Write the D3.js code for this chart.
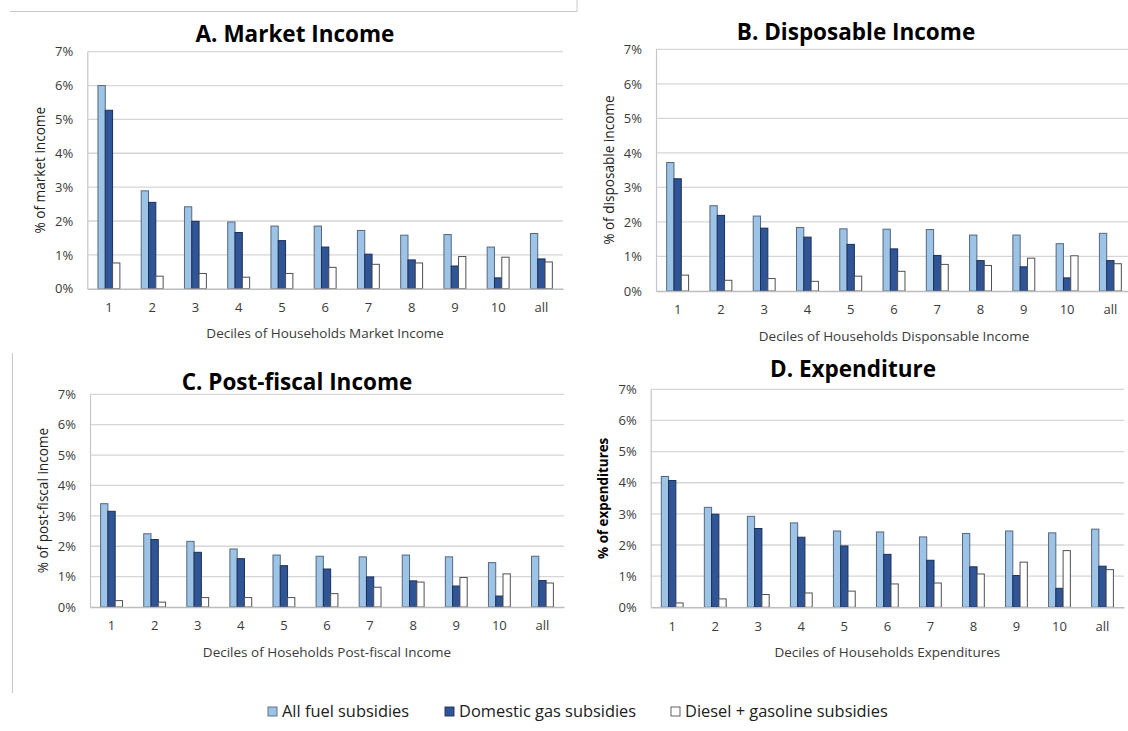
<!DOCTYPE html>
<html>
<head>
<meta charset="utf-8">
<script src="https://cdn.jsdelivr.net/npm/d3@7"></script>
<style>
  html, body { margin: 0; padding: 0; background: #fff; }
  svg { display: block; }
  text { font-family: "Open Sans", "DejaVu Sans", sans-serif; }
</style>
</head>
<body>
<svg id="chart" width="1128" height="731"></svg>
<script>
// ---------------- DATA ----------------
const categories = ["1", "2", "3", "4", "5", "6", "7", "8", "9", "10", "all"];
const seriesNames = ["All fuel subsidies", "Domestic gas subsidies", "Diesel + gasoline subsidies"];
const yTickValues = [0, 1, 2, 3, 4, 5, 6, 7];
const yTickLabels = ["0%", "1%", "2%", "3%", "4%", "5%", "6%", "7%"];

// A. Market Income (% of market income)
const marketAll    = [6.00, 2.89, 2.42, 1.97, 1.85, 1.85, 1.72, 1.58, 1.60, 1.23, 1.63];
const marketGas    = [5.27, 2.55, 1.99, 1.66, 1.42, 1.23, 1.02, 0.85, 0.67, 0.32, 0.88];
const marketDiesel = [0.76, 0.37, 0.45, 0.34, 0.45, 0.63, 0.72, 0.76, 0.95, 0.93, 0.79];

// B. Disposable Income (% of disposable income)
const dispAll    = [3.72, 2.47, 2.17, 1.84, 1.80, 1.79, 1.78, 1.62, 1.62, 1.37, 1.67];
const dispGas    = [3.25, 2.19, 1.82, 1.56, 1.35, 1.22, 1.03, 0.88, 0.70, 0.38, 0.88];
const dispDiesel = [0.46, 0.31, 0.36, 0.28, 0.43, 0.57, 0.77, 0.74, 0.95, 1.02, 0.79];

// C. Post-fiscal Income (% of post-fiscal income)
const postAll    = [3.40, 2.41, 2.16, 1.91, 1.71, 1.67, 1.65, 1.71, 1.65, 1.46, 1.67];
const postGas    = [3.15, 2.22, 1.80, 1.59, 1.36, 1.25, 0.99, 0.86, 0.69, 0.36, 0.87];
const postDiesel = [0.21, 0.16, 0.31, 0.31, 0.31, 0.44, 0.65, 0.82, 0.97, 1.09, 0.79];

// D. Expenditure (% of expenditures)
const expAll    = [4.20, 3.21, 2.92, 2.71, 2.45, 2.42, 2.26, 2.37, 2.45, 2.39, 2.51];
const expGas    = [4.07, 2.99, 2.53, 2.25, 1.97, 1.70, 1.51, 1.30, 1.02, 0.61, 1.32];
const expDiesel = [0.14, 0.27, 0.41, 0.46, 0.52, 0.75, 0.78, 1.07, 1.45, 1.82, 1.21];

const panelTitles = ["A. Market Income", "B. Disposable Income", "C. Post-fiscal Income", "D. Expenditure"];
const yTitles = ["% of market income", "% of disposable income", "% of post-fiscal income", "% of expenditures"];
const xTitles = ["Deciles of Households Market Income", "Deciles of Households Disponsable Income",
                 "Deciles of Hoseholds Post-fiscal Income", "Deciles of Households Expenditures"];
const panelSeries = [
  [marketAll, marketGas, marketDiesel],
  [dispAll, dispGas, dispDiesel],
  [postAll, postGas, postDiesel],
  [expAll, expGas, expDiesel]
];

// ---------------- LAYOUT / STYLE ----------------
const colors = ["#9DC3E6", "#2F5597", "#FFFFFF"];
const strokes = ["#56687c", "#1f2f55", "#505050"];
const layouts = [
  { left: 87.3, right: 563, top: 51.7, bottom: 288.7, titleX: 295, titleY: 41.5, yBold: false },
  { left: 656, right: 1132, top: 49.3, bottom: 291, titleX: 856, titleY: 39.5, yBold: false },
  { left: 90, right: 564, top: 394.3, bottom: 607, titleX: 297, titleY: 390, yBold: false },
  { left: 650.7, right: 1124, top: 389.3, bottom: 607.3, titleX: 853, titleY: 377, yBold: true }
];

const svg = d3.select("#chart");

// decorative frame lines from the source figure
svg.append("line").attr("x1", 10).attr("x2", 577).attr("y1", 11.5).attr("y2", 11.5)
  .attr("stroke", "#c8c8c8").attr("stroke-width", 1);
svg.append("line").attr("x1", 577).attr("x2", 577).attr("y1", 0).attr("y2", 11.5)
  .attr("stroke", "#c8c8c8").attr("stroke-width", 1);
svg.append("line").attr("x1", 12.5).attr("x2", 12.5).attr("y1", 353).attr("y2", 693)
  .attr("stroke", "#c8c8c8").attr("stroke-width", 1);

layouts.forEach((L, p) => {
  const g = svg.append("g");
  const x = d3.scaleBand().domain(categories).range([L.left, L.right]).paddingInner(0).paddingOuter(0);
  const y = d3.scaleLinear().domain([0, 7]).range([L.bottom, L.top]);
  const barW = x.bandwidth() * 0.169;
  const x1 = d3.scaleBand().domain(d3.range(3)).range([0, barW * 3]);

  // gridlines
  g.append("g").selectAll("line").data(yTickValues.filter(v => v > 0)).join("line")
    .attr("x1", L.left).attr("x2", L.right)
    .attr("y1", d => y(d)).attr("y2", d => y(d))
    .attr("stroke", "#d6d6d6").attr("stroke-width", 1.3);

  // y axis
  const yAxis = d3.axisLeft(y).tickValues(yTickValues).tickFormat((d, i) => yTickLabels[i]).tickSize(0).tickPadding(14);
  const ya = g.append("g").attr("transform", `translate(${L.left},0)`).call(yAxis);
  ya.select(".domain").attr("stroke", "#c6c6c6").attr("stroke-width", 1.2);
  ya.selectAll("text").attr("font-size", 13).attr("fill", "#3a3a3a")
    .attr("font-family", "'Open Sans', sans-serif");

  // bars
  const groups = g.append("g").selectAll("g").data(categories).join("g")
    .attr("transform", d => `translate(${x(d) + x.bandwidth() / 2 - barW * 1.5},0)`);
  groups.selectAll("rect").data((d, i) => panelSeries[p].map((s, k) => ({ k, v: s[i] }))).join("rect")
    .attr("x", d => x1(d.k))
    .attr("width", barW)
    .attr("y", d => y(d.v))
    .attr("height", d => y(0) - y(d.v))
    .attr("fill", d => colors[d.k])
    .attr("stroke", d => strokes[d.k])
    .attr("stroke-width", 1);

  // x axis
  const xAxis = d3.axisBottom(x).tickSize(0).tickPadding(14);
  const xa = g.append("g").attr("transform", `translate(0,${L.bottom})`).call(xAxis);
  xa.select(".domain").attr("stroke", "#bdbdbd").attr("stroke-width", 1.4);
  xa.selectAll("text").attr("font-size", 13).attr("fill", "#3a3a3a")
    .attr("font-family", "'Open Sans', sans-serif");

  // titles
  g.append("text").attr("x", L.titleX).attr("y", L.titleY).attr("text-anchor", "middle")
    .attr("font-size", 22.5).attr("font-weight", "bold").attr("fill", "#000")
    .text(panelTitles[p]);
  g.append("text").attr("x", (L.left + L.right) / 2).attr("y", L.bottom + 49.5).attr("text-anchor", "middle")
    .attr("font-size", 13.5).attr("fill", "#3a3a3a").text(xTitles[p]);
  const cy = (L.top + L.bottom) / 2;
  const tx = L.left - 47;
  g.append("text").attr("transform", `translate(${tx},${cy}) rotate(-90)`).attr("text-anchor", "middle")
    .attr("dy", "0.35em")
    .attr("font-size", L.yBold ? 13.4 : 13.6).attr("font-weight", L.yBold ? "bold" : "normal")
    .attr("fill", L.yBold ? "#000" : "#202020").text(yTitles[p]);
});

// legend
const legendX = [268, 445, 671];
const leg = svg.append("g").selectAll("g").data(seriesNames).join("g")
  .attr("transform", (d, i) => `translate(${legendX[i]},707)`);
leg.append("rect").attr("width", 9).attr("height", 9)
  .attr("fill", (d, i) => colors[i]).attr("stroke", (d, i) => strokes[i]).attr("stroke-width", 0.9);
leg.append("text").attr("x", 14).attr("y", 10).attr("font-size", 16.4).attr("fill", "#202020").text(d => d);
</script>
</body>
</html>
